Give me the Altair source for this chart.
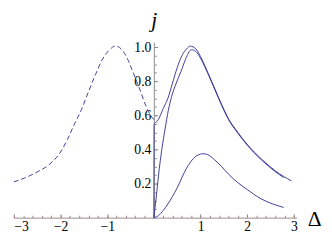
import altair as alt
import pandas as pd

# ---- data ----
neg_delta = [-3.0, -2.75, -2.5, -2.25, -2.0, -1.85, -1.7, -1.55, -1.4, -1.25, -1.1,
             -0.95, -0.82, -0.7, -0.58, -0.47, -0.37, -0.27, -0.17, -0.08, 0.0]
neg_j = [0.21, 0.235, 0.268, 0.31, 0.385, 0.46, 0.55, 0.635, 0.74, 0.84, 0.93,
         0.985, 1.007, 0.99, 0.94, 0.87, 0.80, 0.73, 0.655, 0.605, 0.575]

a_delta = [0.0, 0.005, 0.05, 0.1, 0.2, 0.3, 0.4, 0.5, 0.6, 0.7, 0.78, 0.9, 1.0,
           1.15, 1.3, 1.45, 1.6, 1.8, 2.0, 2.3, 2.6, 2.95]
a_j = [0.0, 0.55, 0.56, 0.578, 0.64, 0.70, 0.79, 0.88, 0.95, 0.99, 1.006, 0.99, 0.945,
       0.855, 0.76, 0.665, 0.58, 0.50, 0.43, 0.345, 0.275, 0.215]

b_delta = [0.0, 0.05, 0.1, 0.17, 0.24, 0.31, 0.38, 0.48, 0.58, 0.68, 0.8, 0.9, 1.0,
           1.15, 1.3, 1.45, 1.6, 1.8, 2.0, 2.3, 2.6, 2.78]
b_j = [0.0, 0.12, 0.25, 0.40, 0.52, 0.63, 0.71, 0.79, 0.857, 0.93, 0.985, 0.975, 0.935,
       0.85, 0.755, 0.66, 0.575, 0.495, 0.425, 0.34, 0.27, 0.235]

c_delta = [0.0, 0.1, 0.2, 0.3, 0.4, 0.5, 0.6, 0.7, 0.8, 0.9, 1.0, 1.05, 1.15, 1.3,
           1.45, 1.6, 1.8, 2.0, 2.3, 2.55, 2.78]
c_j = [0.0, 0.012, 0.042, 0.08, 0.125, 0.175, 0.235, 0.29, 0.332, 0.36, 0.373, 0.375,
       0.37, 0.34, 0.30, 0.255, 0.205, 0.165, 0.11, 0.08, 0.06]

x_major = [-3, -2, -1, 1, 2, 3]
x_minor = [round(-3 + 0.2 * i, 1) for i in range(31) if abs(-3 + 0.2 * i) > 1e-9]
y_major = [0.2, 0.4, 0.6, 0.8, 1.0]
y_minor = [round(0.05 * i, 2) for i in range(1, 21)]

df_neg = pd.DataFrame({"d": neg_delta, "j": neg_j})
df_ab = pd.concat([
    pd.DataFrame({"d": a_delta, "j": a_j, "s": "A"}),
    pd.DataFrame({"d": b_delta, "j": b_j, "s": "B"}),
])
df_c = pd.DataFrame({"d": c_delta, "j": c_j})

# ---- layout ----
W, H = 290, 180
XDOM = [-3.0, 3.06]
YDOM = [0.0, 1.03]
x0 = (0 - XDOM[0]) / (XDOM[1] - XDOM[0]) * W

xs = alt.Scale(domain=XDOM, nice=False, zero=False)
ys = alt.Scale(domain=YDOM, nice=False, zero=False)

FONT = "Liberation Serif, Times New Roman, DejaVu Serif, serif"
AX = "#8c8c8c"
XAX = "#9a8888"
LINE = "#3d3d99"

dashed = alt.Chart(df_neg).mark_line(
    color=LINE, strokeWidth=1, strokeDash=[5, 3], interpolate="monotone"
).encode(
    x=alt.X("d:Q", scale=xs, axis=alt.Axis(
        orient="bottom", values=x_major, tickSize=0, domain=False, grid=False,
        labelFont=FONT, labelFontSize=14, labelColor="black", labelPadding=2, format="d",
        title="Δ", titleFont=FONT, titleFontSize=22, titleFontWeight="normal",
        titleColor="black", titleX=308, titleY=8, titleAlign="center",
        titleBaseline="alphabetic", titleAngle=0)),
    y=alt.Y("j:Q", scale=ys, axis=alt.Axis(
        orient="left", offset=-x0, values=y_major, tickSize=0, domain=False, grid=False,
        labelFont=FONT, labelFontSize=14, labelColor="black", labelPadding=3, format=".1f",
        title="j", titleFont=FONT, titleFontStyle="italic", titleFontSize=22,
        titleFontWeight="normal", titleColor="black", titleAngle=0, titleX=0, titleY=-16,
        titleAlign="center", titleBaseline="alphabetic")),
)

solid = alt.Chart(df_ab).mark_line(
    color=LINE, strokeWidth=1, interpolate="monotone"
).encode(
    x=alt.X("d:Q", scale=xs, title=None, axis=alt.Axis(
        orient="top", offset=-H, values=x_major, tickSize=4, tickColor=XAX,
        domain=True, domainColor=XAX, labels=False, grid=False)),
    y=alt.Y("j:Q", scale=ys, title=None, axis=alt.Axis(
        orient="right", offset=-(W - x0), values=y_major, tickSize=4, tickColor=AX,
        domain=True, domainColor=AX, labels=False, grid=False)),
    detail="s:N",
)

low = alt.Chart(df_c).mark_line(
    color=LINE, strokeWidth=1, interpolate="monotone"
).encode(
    x=alt.X("d:Q", scale=xs, title=None, axis=alt.Axis(
        orient="top", offset=-H, values=x_minor, tickSize=2.5, tickColor=XAX,
        domain=False, labels=False, grid=False)),
    y=alt.Y("j:Q", scale=ys, title=None, axis=alt.Axis(
        orient="right", offset=-(W - x0), values=y_minor, tickSize=2.5, tickColor=AX,
        domain=False, labels=False, grid=False)),
)

chart = alt.layer(dashed, solid, low).resolve_axis(
    x="independent", y="independent"
).properties(
    width=W, height=H,
    autosize=alt.AutoSizeParams(type="none"),
    padding={"left": 6, "top": 32, "right": 28, "bottom": 22},
).configure_view(strokeWidth=0)

chart.save("out.html", embed_options={"renderer": "svg", "actions": False})
